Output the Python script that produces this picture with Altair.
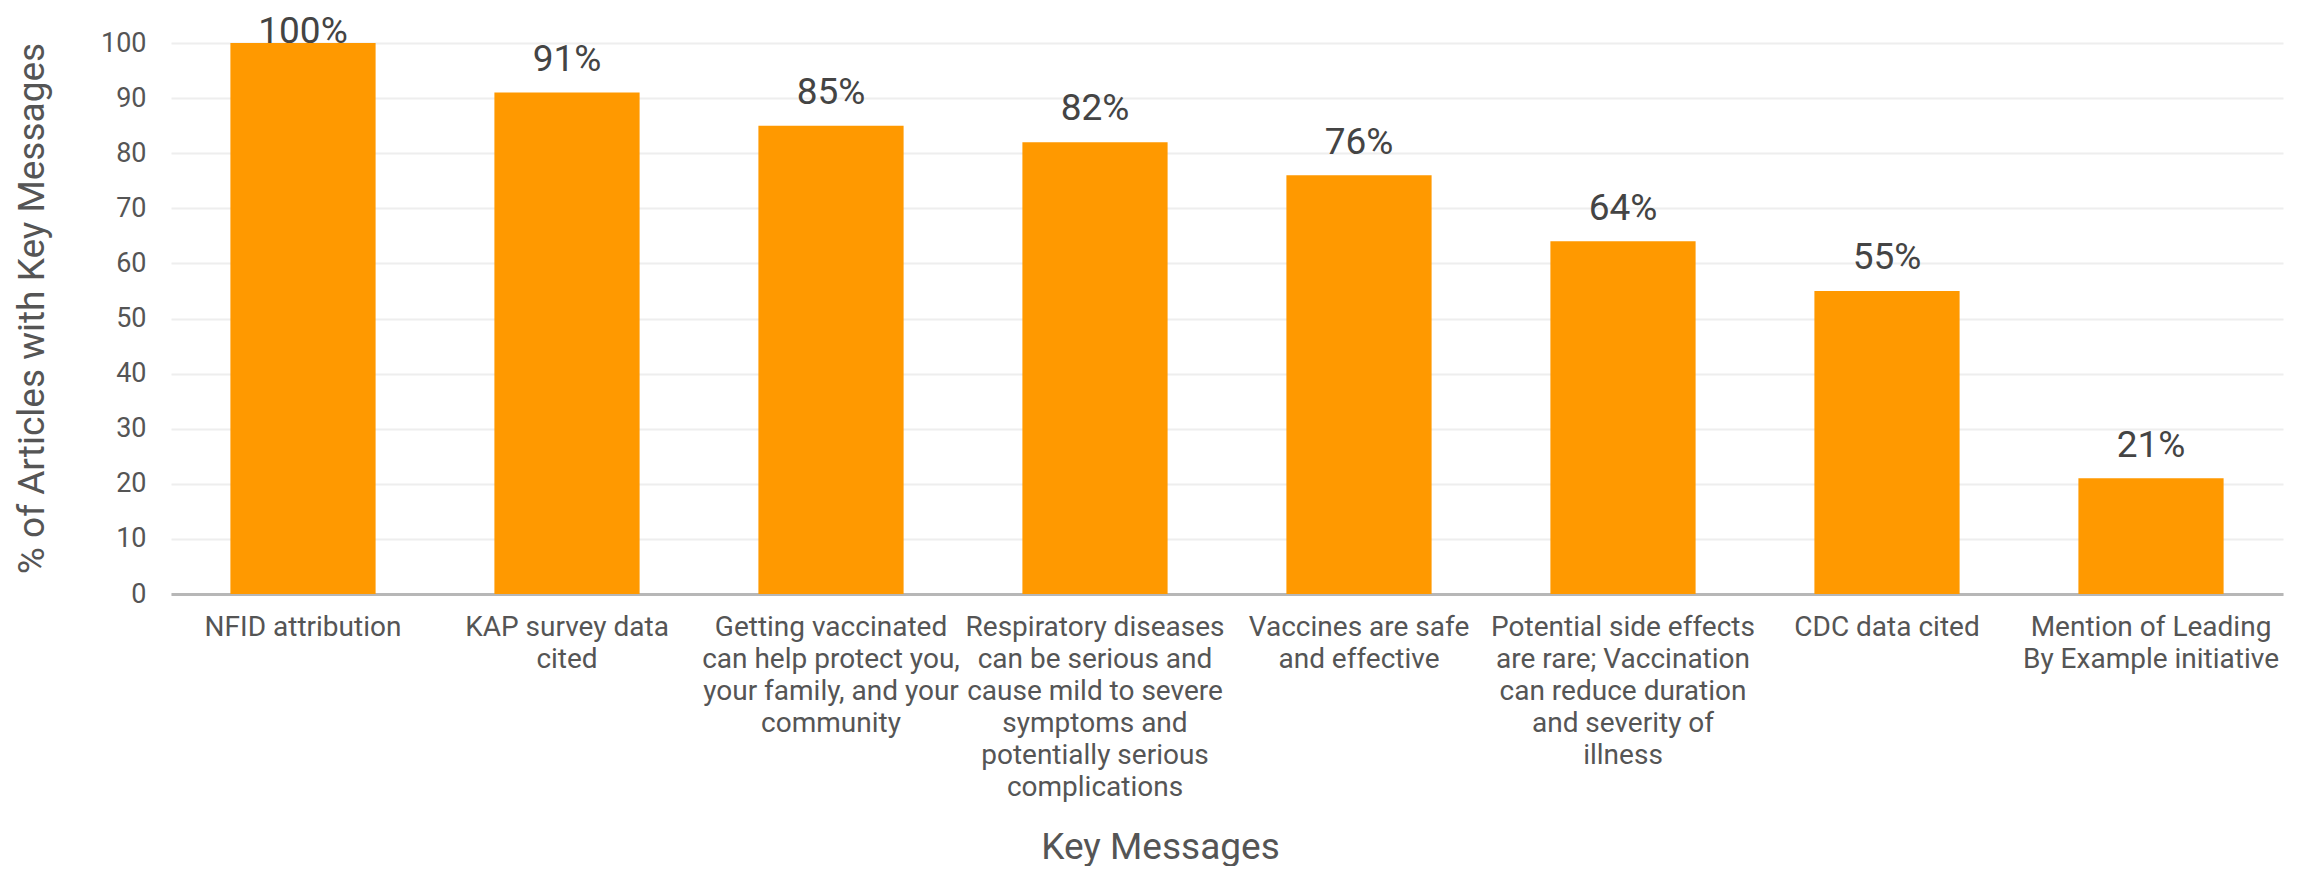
import altair as alt
import pandas as pd

categories = [
    "NFID attribution",
    "KAP survey data\ncited",
    "Getting vaccinated\ncan help protect you,\nyour family, and your\ncommunity",
    "Respiratory diseases\ncan be serious and\ncause mild to severe\nsymptoms and\npotentially serious\ncomplications",
    "Vaccines are safe\nand effective",
    "Potential side effects\nare rare; Vaccination\ncan reduce duration\nand severity of\nillness",
    "CDC data cited",
    "Mention of Leading\nBy Example initiative",
]
values = [100, 91, 85, 82, 76, 64, 55, 21]
y_ticks = [0, 10, 20, 30, 40, 50, 60, 70, 80, 90, 100]

df = pd.DataFrame({"category": categories, "value": values})

FONT = "Roboto"

x_enc = alt.X(
    "category:N",
    sort=None,
    scale=alt.Scale(paddingInner=0.45, paddingOuter=0.225),
    axis=alt.Axis(
        title="Key Messages",
        labelExpr="split(datum.label, '\\n')",
        labelAngle=0,
        labelFont=FONT,
        labelFontSize=28,
        labelColor="#555555",
        labelLineHeight=32,
        labelLimit=0,
        labelPadding=19,
        labelBaseline="top",
        ticks=False,
        domainColor="#b7b7b7",
        domainWidth=3,
        grid=False,
        titleFont=FONT,
        titleFontSize=37,
        titleFontWeight="normal",
        titleColor="#555555",
        titleX=989,
        titleY=264,
        titleAlign="center",
        titleBaseline="alphabetic",
    ),
)

y_scale = alt.Scale(domain=[0, 100], nice=False)

bars = alt.Chart(df).mark_bar(color="#FF9900").encode(
    x=x_enc,
    y=alt.Y(
        "value:Q",
        scale=y_scale,
        axis=alt.Axis(
            title="% of Articles with Key Messages",
            values=y_ticks,
            labelFont=FONT,
            labelFontSize=27,
            labelColor="#555555",
            labelPadding=25,
            ticks=False,
            domain=False,
            gridColor="#eeeeee",
            gridWidth=2,
            titleFont=FONT,
            titleFontSize=37,
            titleFontWeight="normal",
            titleColor="#555555",
            titleX=-139,
            titleY=265,
            titleAlign="center",
            titleBaseline="middle",
        ),
    ),
)

text = alt.Chart(df).transform_calculate(
    labelY="min(datum.value + 3.94, 100)",
    label="datum.value + '%'",
).mark_text(
    font=FONT, fontSize=37, color="#444444", baseline="alphabetic", align="center"
).encode(
    x=alt.X("category:N", sort=None),
    y=alt.Y("labelY:Q", scale=y_scale),
    text="label:N",
)

chart = alt.layer(bars, text).properties(
    width=2112,
    height=551,
    autosize=alt.AutoSizeParams(type="none"),
    padding={"left": 163, "top": 35, "right": 5, "bottom": 272},
).configure_view(stroke=None)

chart.save("out.html", embed_options={"renderer": "svg", "actions": False})
